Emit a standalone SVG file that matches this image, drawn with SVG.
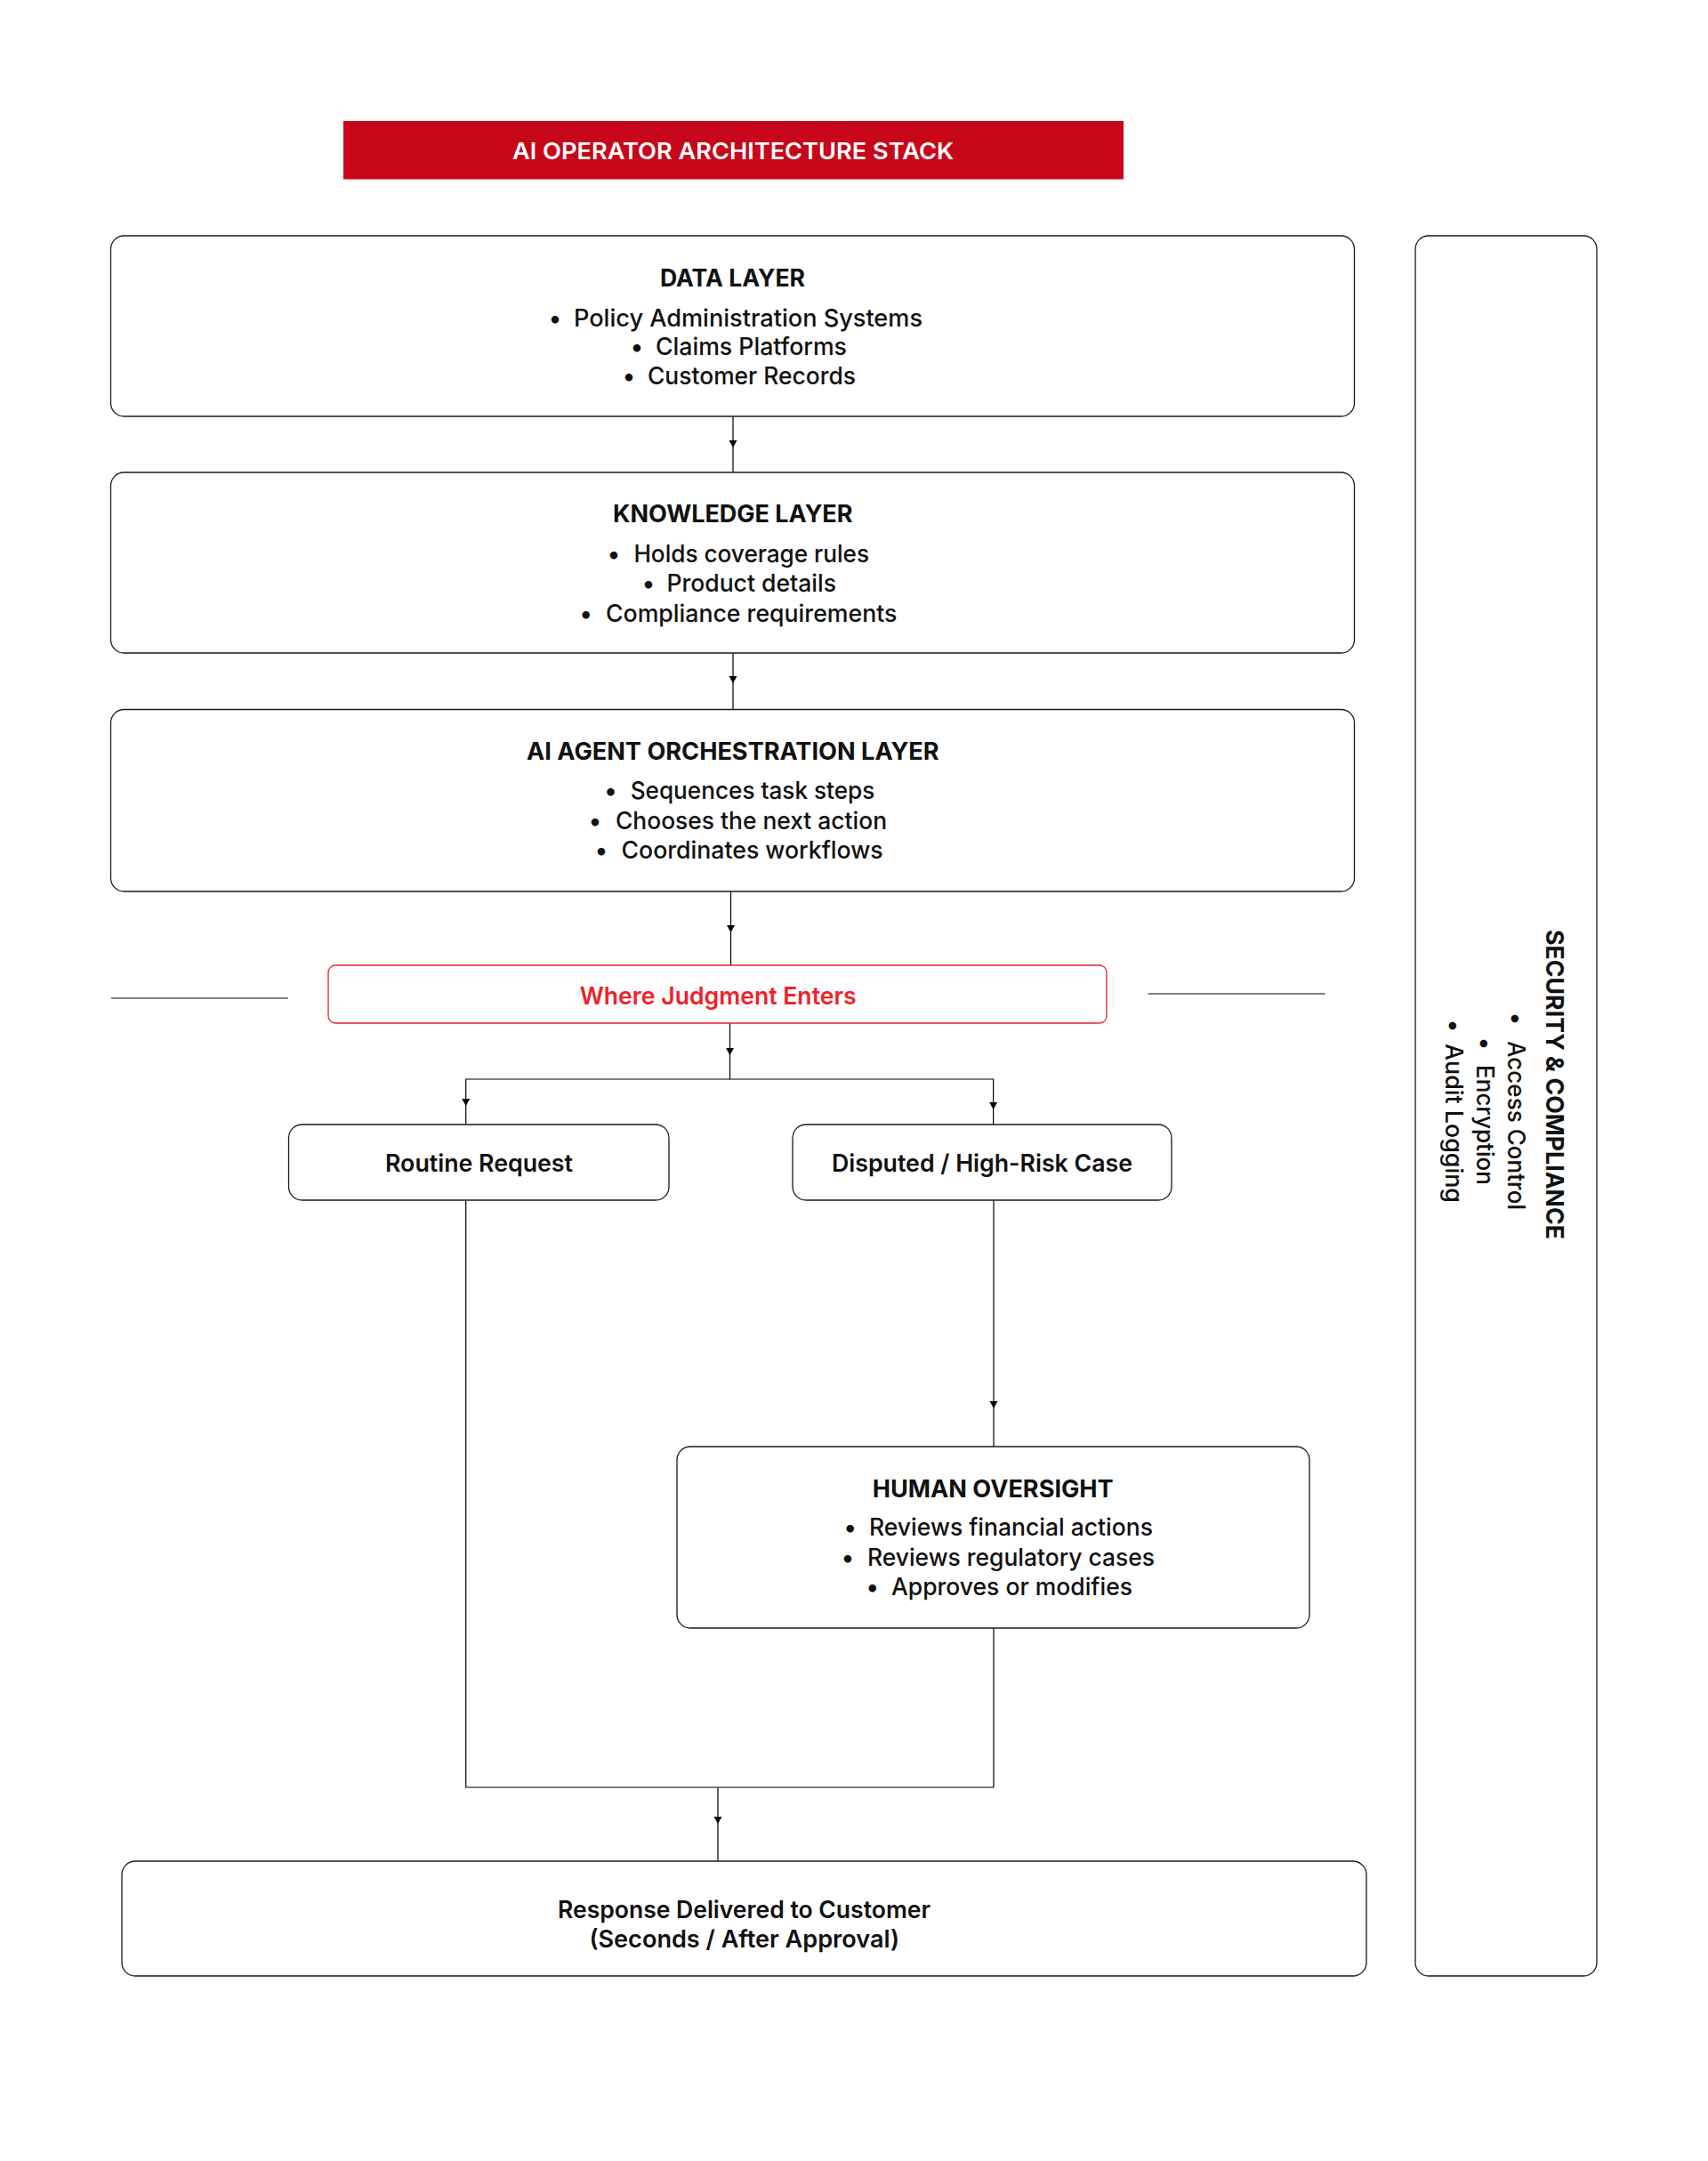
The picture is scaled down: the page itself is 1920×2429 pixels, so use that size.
<svg xmlns="http://www.w3.org/2000/svg" xmlns:xlink="http://www.w3.org/1999/xlink" width="1920" height="2429" viewBox="0 0 1920 2429">
  <style>
    .box { fill: #ffffff; stroke: #1a1a1a; stroke-width: 1.3; }
    .jbox { fill: #ffffff; stroke: #e3232b; stroke-width: 1.3; }
    .conn { fill: none; stroke: #000000; stroke-width: 1.2; }
    .t { font-family: Inter, "Liberation Sans", sans-serif; fill: #111111; }
    .h { font-size: 27px; font-weight: 700; }
    .b { font-size: 27px; font-weight: 500; }
    .bt { font-size: 27px; font-weight: 600; }
    .dot { font-size: 27px; font-weight: 500; text-anchor: middle; }
  </style>
  <defs>
    <path id="ah" d="M-4.5,-8 L4.5,-8 L0,0 Z" fill="#000000"/>
  </defs>
  <rect x="0" y="0" width="1920" height="2429" fill="#ffffff"/>

  <g id="title-banner">
    <rect x="386" y="136" width="877" height="65.5" fill="#c8061a"/>
    <text class="t" x="576" y="179" font-size="26" font-weight="600" style="fill:#ffffff" textLength="496" lengthAdjust="spacingAndGlyphs">AI OPERATOR ARCHITECTURE STACK</text>
  </g>

  <g id="connectors">
    <path class="conn" d="M824,468 V531"/>
    <use xlink:href="#ah" x="824" y="503"/>
    <path class="conn" d="M824,734 V797.5"/>
    <use xlink:href="#ah" x="824" y="768"/>
    <path class="conn" d="M821.5,1002 V1085"/>
    <use xlink:href="#ah" x="821.5" y="1048"/>
    <path class="conn" d="M820.5,1150 V1213 H523.7 V1264"/>
    <path class="conn" d="M820.5,1213 H1116.6 V1264"/>
    <use xlink:href="#ah" x="820.5" y="1186"/>
    <use xlink:href="#ah" x="523.7" y="1243"/>
    <use xlink:href="#ah" x="1116.6" y="1247"/>
    <path class="conn" d="M523.7,1349 V2009 H1117"/>
    <path class="conn" d="M1117,1349 V1626"/>
    <use xlink:href="#ah" x="1117" y="1583"/>
    <path class="conn" d="M1117,1830 V2009"/>
    <path class="conn" d="M807,2009 V2092"/>
    <use xlink:href="#ah" x="807" y="2050"/>
    <path class="conn" d="M125,1122 H324"/>
    <path class="conn" d="M1290.6,1117 H1489.5"/>
  </g>

  <g id="data-layer">
    <rect class="box" x="124.5" y="265" width="1398" height="203" rx="15"/>
    <text class="t h" x="742" y="322" textLength="163" lengthAdjust="spacingAndGlyphs">DATA LAYER</text>
    <text class="t dot" x="624" y="367">•</text>
    <text class="t b" x="645" y="367" textLength="392" lengthAdjust="spacingAndGlyphs">Policy Administration Systems</text>
    <text class="t dot" x="716" y="399">•</text>
    <text class="t b" x="737" y="399" textLength="215" lengthAdjust="spacingAndGlyphs">Claims Platforms</text>
    <text class="t dot" x="707" y="432">•</text>
    <text class="t b" x="728" y="432" textLength="234" lengthAdjust="spacingAndGlyphs">Customer Records</text>
  </g>

  <g id="knowledge-layer">
    <rect class="box" x="124.5" y="531" width="1398" height="203" rx="15"/>
    <text class="t h" x="689" y="587" textLength="269.5" lengthAdjust="spacingAndGlyphs">KNOWLEDGE LAYER</text>
    <text class="t dot" x="690" y="631.5">•</text>
    <text class="t b" x="712.4" y="631.5" textLength="264.6" lengthAdjust="spacingAndGlyphs">Holds coverage rules</text>
    <text class="t dot" x="729" y="665">•</text>
    <text class="t b" x="749.4" y="665" textLength="190.6" lengthAdjust="spacingAndGlyphs">Product details</text>
    <text class="t dot" x="658.7" y="699">•</text>
    <text class="t b" x="681" y="699" textLength="327.4" lengthAdjust="spacingAndGlyphs">Compliance requirements</text>
  </g>

  <g id="orchestration-layer">
    <rect class="box" x="124.5" y="797.5" width="1398" height="204.5" rx="15"/>
    <text class="t h" x="592" y="854" textLength="463.6" lengthAdjust="spacingAndGlyphs">AI AGENT ORCHESTRATION LAYER</text>
    <text class="t dot" x="686.5" y="898">•</text>
    <text class="t b" x="708.7" y="898" textLength="274.7" lengthAdjust="spacingAndGlyphs">Sequences task steps</text>
    <text class="t dot" x="669" y="931.5">•</text>
    <text class="t b" x="692" y="931.5" textLength="305" lengthAdjust="spacingAndGlyphs">Chooses the next action</text>
    <text class="t dot" x="676" y="965">•</text>
    <text class="t b" x="698.5" y="965" textLength="294.2" lengthAdjust="spacingAndGlyphs">Coordinates workflows</text>
  </g>

  <g id="judgment">
    <rect class="jbox" x="369" y="1085" width="875" height="65" rx="8"/>
    <text class="t bt" x="651.7" y="1129.3" style="fill:#ee2229" textLength="311" lengthAdjust="spacingAndGlyphs">Where Judgment Enters</text>
  </g>

  <g id="routine-request">
    <rect class="box" x="324.5" y="1264" width="427.5" height="85" rx="15"/>
    <text class="t bt" x="433" y="1317" textLength="211" lengthAdjust="spacingAndGlyphs">Routine Request</text>
  </g>

  <g id="disputed-case">
    <rect class="box" x="891" y="1264" width="426" height="85" rx="15"/>
    <text class="t bt" x="935" y="1317" textLength="338" lengthAdjust="spacingAndGlyphs">Disputed / High-Risk Case</text>
  </g>

  <g id="human-oversight">
    <rect class="box" x="761" y="1626" width="711" height="204" rx="15"/>
    <text class="t h" x="980.7" y="1683" textLength="271" lengthAdjust="spacingAndGlyphs">HUMAN OVERSIGHT</text>
    <text class="t dot" x="955.7" y="1726">•</text>
    <text class="t b" x="977" y="1726" textLength="319" lengthAdjust="spacingAndGlyphs">Reviews financial actions</text>
    <text class="t dot" x="953" y="1760">•</text>
    <text class="t b" x="975" y="1760" textLength="323" lengthAdjust="spacingAndGlyphs">Reviews regulatory cases</text>
    <text class="t dot" x="980.7" y="1793">•</text>
    <text class="t b" x="1002" y="1793" textLength="271" lengthAdjust="spacingAndGlyphs">Approves or modifies</text>
  </g>

  <g id="response">
    <rect class="box" x="137" y="2092" width="1399" height="129" rx="15"/>
    <text class="t bt" x="627" y="2156" textLength="419" lengthAdjust="spacingAndGlyphs">Response Delivered to Customer</text>
    <text class="t bt" x="662.4" y="2189" textLength="348.6" lengthAdjust="spacingAndGlyphs">(Seconds / After Approval)</text>
  </g>

  <g id="security-compliance">
    <rect class="box" x="1591" y="265" width="204" height="1956" rx="15"/>
    <text class="t h" transform="translate(1738,1045) rotate(90)" x="0" y="0" textLength="348" lengthAdjust="spacingAndGlyphs">SECURITY &amp; COMPLIANCE</text>
    <text class="t dot" transform="translate(1695,1145) rotate(90)" x="0" y="0">•</text>
    <text class="t b" transform="translate(1695,1170) rotate(90)" x="0" y="0" textLength="190" lengthAdjust="spacingAndGlyphs">Access Control</text>
    <text class="t dot" transform="translate(1660,1173) rotate(90)" x="0" y="0">•</text>
    <text class="t b" transform="translate(1660,1197) rotate(90)" x="0" y="0" textLength="135" lengthAdjust="spacingAndGlyphs">Encryption</text>
    <text class="t dot" transform="translate(1625,1153) rotate(90)" x="0" y="0">•</text>
    <text class="t b" transform="translate(1625,1173) rotate(90)" x="0" y="0" textLength="179" lengthAdjust="spacingAndGlyphs">Audit Logging</text>
  </g>
</svg>
